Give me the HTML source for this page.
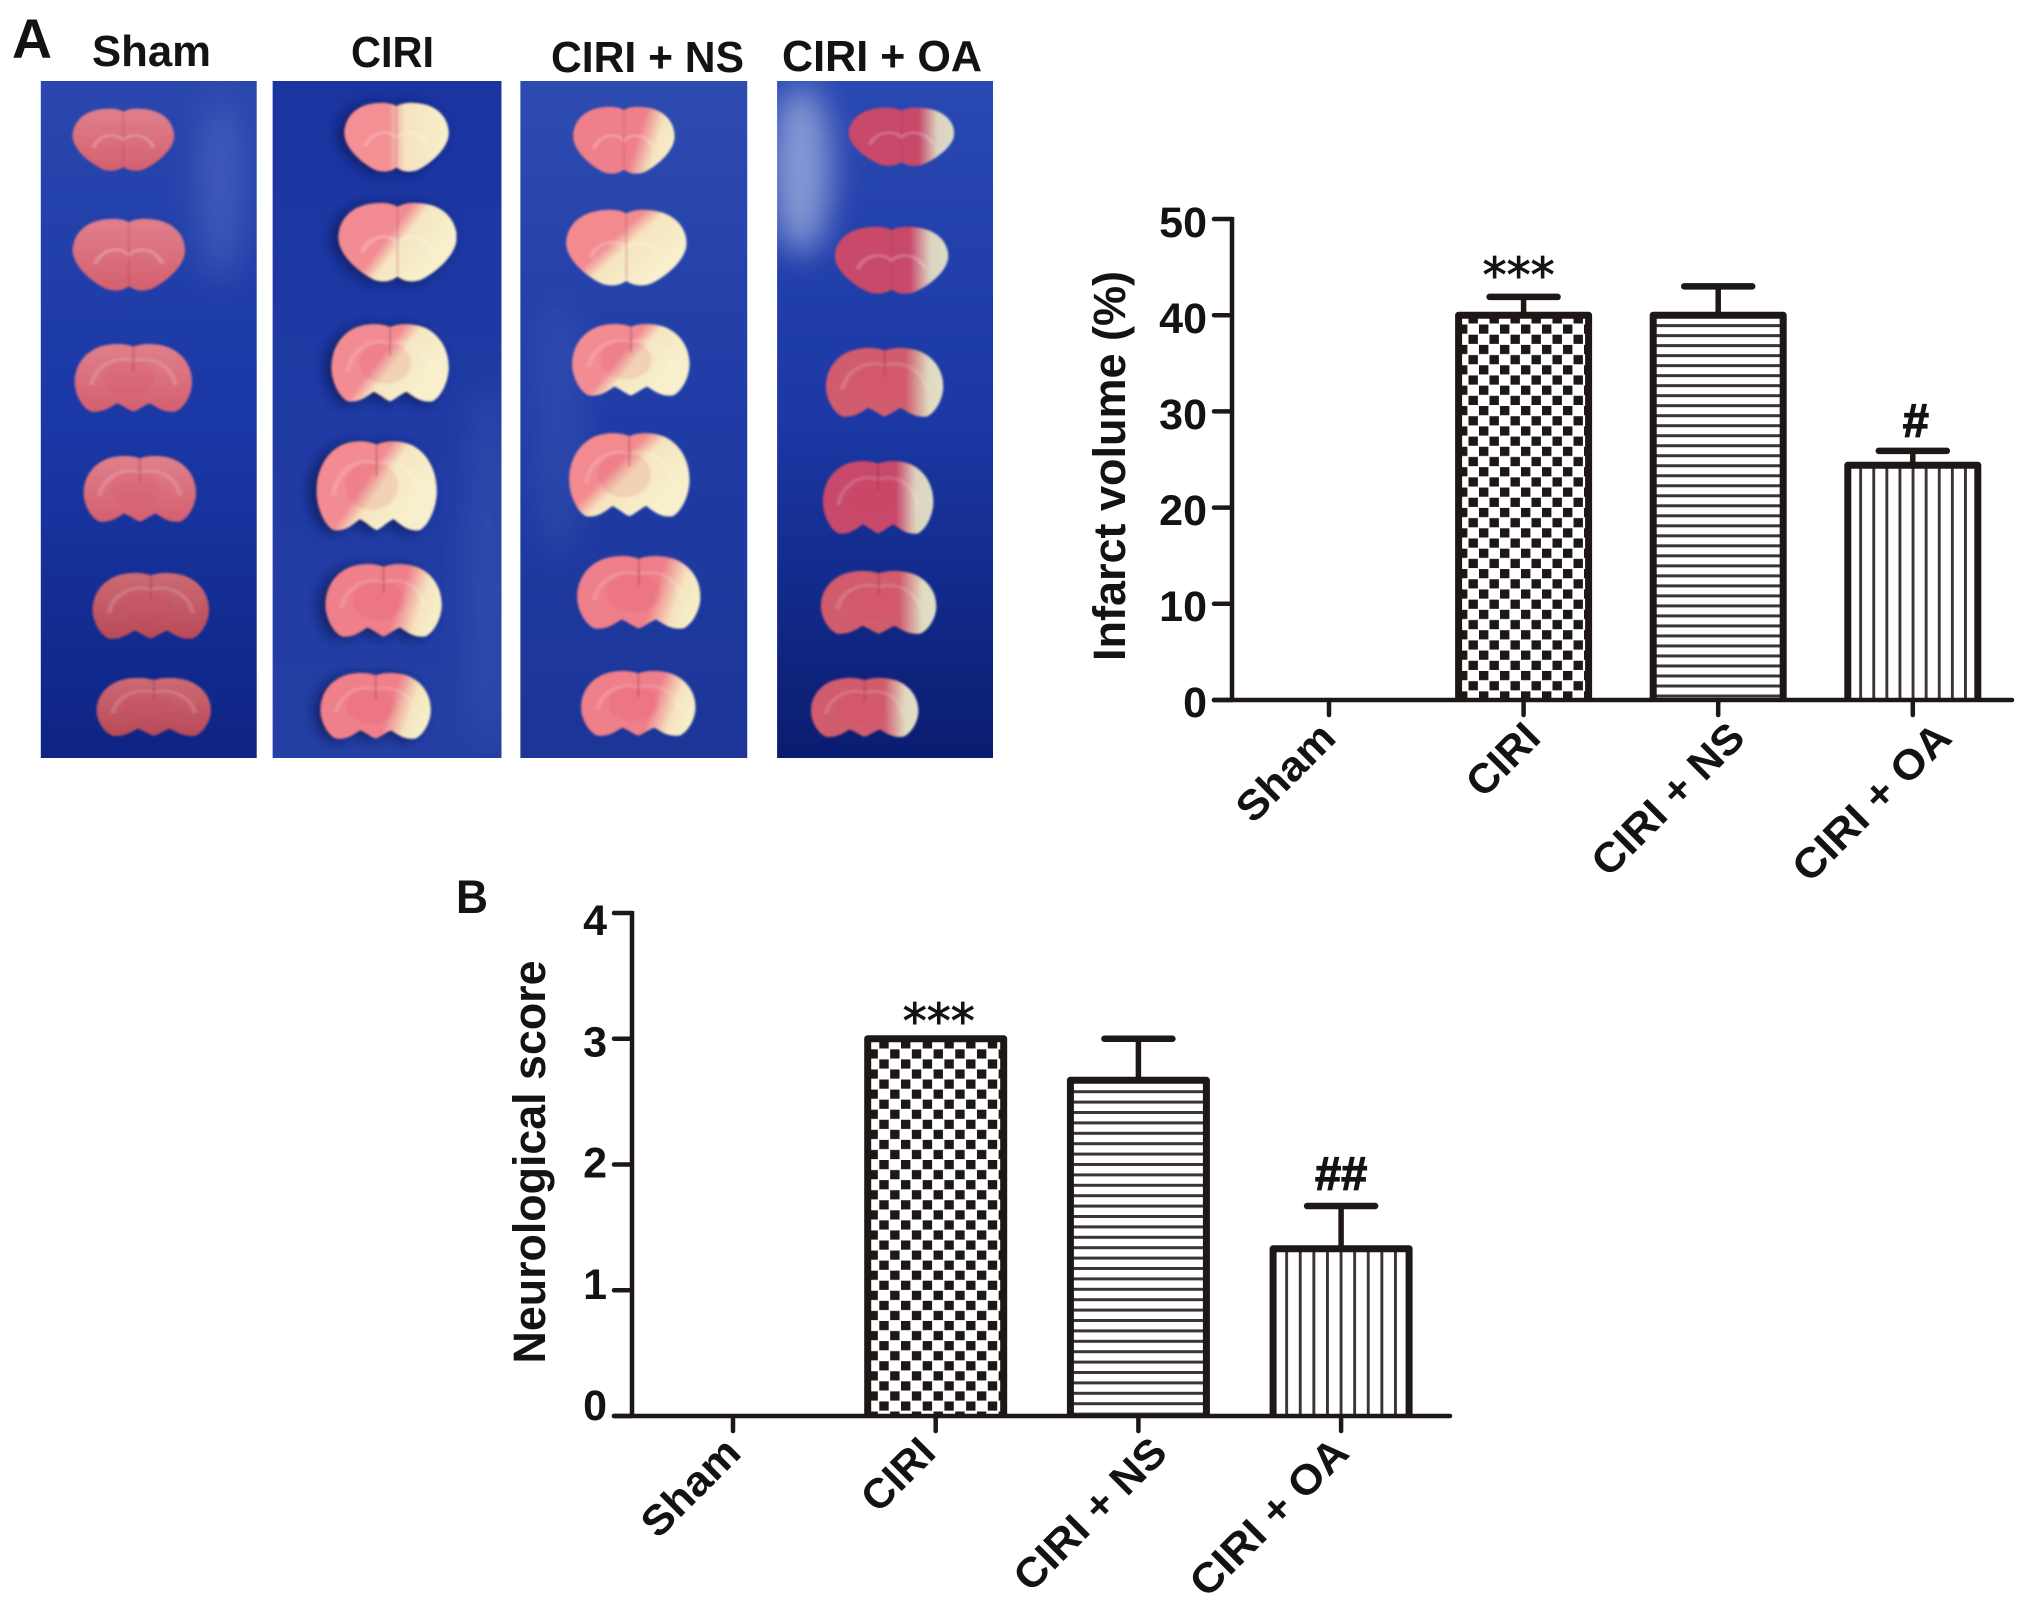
<!DOCTYPE html>
<html lang="en">
<head>
<meta charset="utf-8">
<title>Infarct volume and neurological score</title>
<style>
html,body{margin:0;padding:0;background:#fff;}
svg{display:block;}
text{font-family:"Liberation Sans",Arial,sans-serif;fill:#141212;}
.hdr{font-weight:700;font-size:44px;}
.tick{font-weight:700;font-size:43px;}
.xl{font-weight:700;font-size:42px;}
.ttl{font-weight:700;font-size:45px;}
</style>
</head>
<body>
<svg id="figure" xmlns="http://www.w3.org/2000/svg" width="2031" height="1609" viewBox="0 0 2031 1609">
<defs>
  <linearGradient id="blue1" x1="0" y1="0" x2="0" y2="1"><stop offset="0" stop-color="#2a47ae"/><stop offset=".5" stop-color="#1a38a6"/><stop offset="1" stop-color="#0e2484"/></linearGradient>
  <linearGradient id="blue2" x1="0" y1="0" x2="0" y2="1"><stop offset="0" stop-color="#1a34a0"/><stop offset=".5" stop-color="#1f3ba4"/><stop offset="1" stop-color="#2440a4"/></linearGradient>
  <linearGradient id="blue3" x1="0" y1="0" x2="0" y2="1"><stop offset="0" stop-color="#2d4bb0"/><stop offset=".5" stop-color="#1f3ca6"/><stop offset="1" stop-color="#1c3596"/></linearGradient>
  <linearGradient id="blue4" x1="0" y1="0" x2="0" y2="1"><stop offset="0" stop-color="#2a48b2"/><stop offset=".5" stop-color="#1b38a4"/><stop offset="1" stop-color="#0a1c70"/></linearGradient>
  <linearGradient id="gS1" x1="0" y1="0" x2="0" y2="1"><stop offset="0" stop-color="#e0808c"/><stop offset="1" stop-color="#d4606f"/></linearGradient>
  <linearGradient id="gS2" x1="0" y1="0" x2="0" y2="1"><stop offset="0" stop-color="#cd6b74"/><stop offset="1" stop-color="#b94a58"/></linearGradient>
  <linearGradient id="gC1" x1="0" y1="0" x2="1" y2="0"><stop offset=".42" stop-color="#f48f94"/><stop offset=".58" stop-color="#f7e3c0"/><stop offset="1" stop-color="#f8f0cc"/></linearGradient>
  <linearGradient id="gC2" x1=".1" y1=".1" x2=".9" y2=".5"><stop offset=".48" stop-color="#f28c92"/><stop offset=".64" stop-color="#f6e6c2"/><stop offset="1" stop-color="#f8f0cc"/></linearGradient>
  <linearGradient id="gC3" x1="0" y1=".2" x2="1" y2=".4"><stop offset=".66" stop-color="#ef7f8a"/><stop offset=".86" stop-color="#f5e4bf"/><stop offset="1" stop-color="#f7eec8"/></linearGradient>
  <linearGradient id="gN" x1=".1" y1=".05" x2=".9" y2=".6"><stop offset=".44" stop-color="#f38a90"/><stop offset=".6" stop-color="#f6e5c0"/><stop offset="1" stop-color="#f8f0cc"/></linearGradient>
  <linearGradient id="gO" x1="0" y1="0" x2="1" y2="0"><stop offset=".66" stop-color="#c8486a"/><stop offset=".84" stop-color="#dcd3c0"/><stop offset="1" stop-color="#dedcc6"/></linearGradient>
  <linearGradient id="gO2" x1="0" y1="0" x2="1" y2="0"><stop offset=".68" stop-color="#d15c6e"/><stop offset=".88" stop-color="#e0dcc0"/><stop offset="1" stop-color="#e2dfc8"/></linearGradient>
  <g id="brainF">
    <path d="M50 6C44 0 34 0 24 3C8 8 0 26 0 44C0 64 16 86 30 96C38 100 45 98 50 92C55 98 62 100 70 96C84 86 100 64 100 44C100 26 92 8 76 3C66 0 56 0 50 6Z"/>
    <path d="M20 62C28 38 44 40 50 50C56 40 72 38 80 62" fill="none" stroke="#fff" stroke-opacity=".22" stroke-width="4"/>
    <path d="M50 8V90" fill="none" stroke="#a83a4c" stroke-opacity=".28" stroke-width="1.6"/>
  </g>
  <g id="brainM">
    <path d="M50 5C42 0 30 0 20 6C6 16 0 36 0 56C0 72 6 92 14 98C24 100 30 92 36 86C42 90 46 96 50 98C54 96 58 90 64 86C70 92 76 100 86 98C94 92 100 72 100 56C100 36 94 16 80 6C70 0 58 0 50 5Z"/>
    <ellipse cx="46" cy="50" rx="22" ry="26" fill="#d8405e" fill-opacity=".13"/>
    <path d="M14 60C18 30 36 18 50 26C64 18 82 30 86 60" fill="none" stroke="#fff" stroke-opacity=".16" stroke-width="4"/>
    <path d="M50 6V40" fill="none" stroke="#8a2a3c" stroke-opacity=".35" stroke-width="1.6"/>
  </g>
  <filter id="soft" filterUnits="userSpaceOnUse" x="0" y="0" width="2031" height="1609"><feGaussianBlur stdDeviation="1"/></filter>
  <filter id="shadow" filterUnits="userSpaceOnUse" x="0" y="0" width="2031" height="1609"><feGaussianBlur stdDeviation="6"/></filter>
  <filter id="glareBlur" filterUnits="userSpaceOnUse" x="0" y="0" width="2031" height="1609"><feGaussianBlur stdDeviation="16"/></filter>
  <clipPath id="clipSham"><rect x="41" y="81" width="217" height="677"/></clipPath>
  <clipPath id="clipCiri"><rect x="274" y="81" width="230" height="677"/></clipPath>
  <clipPath id="clipNs"><rect x="523" y="81" width="228" height="677"/></clipPath>
  <clipPath id="clipOa"><rect x="781" y="81" width="217" height="677"/></clipPath>

  <pattern id="checkA" patternUnits="userSpaceOnUse" width="21" height="20.38" patternTransform="translate(1468.5 324.5)"><rect x="10.5" y="0" width="9.4" height="9.2" fill="#1d1716"/><rect x="0" y="10.19" width="9.4" height="9.2" fill="#1d1716"/></pattern>
  <pattern id="hlineA" patternUnits="userSpaceOnUse" width="10" height="10.01" patternTransform="translate(0 404.2)"><rect x="0" y="0" width="10" height="3" fill="#3a3534"/></pattern>
  <pattern id="vlineA" patternUnits="userSpaceOnUse" width="13.1" height="10" patternTransform="translate(1911.6 0)"><rect x="0" y="0" width="2.9" height="10" fill="#3a3534"/></pattern>
  <pattern id="checkB" patternUnits="userSpaceOnUse" width="21.7" height="20.12" patternTransform="translate(879.3 1059.4)"><rect x="0" y="0" width="9.4" height="9.2" fill="#1d1716"/><rect x="10.85" y="-10.06" width="9.4" height="9.2" fill="#1d1716"/><rect x="10.85" y="10.06" width="9.4" height="9.2" fill="#1d1716"/></pattern>
  <pattern id="hlineB" patternUnits="userSpaceOnUse" width="10" height="10.4" patternTransform="translate(0 1090.2)"><rect x="0" y="0" width="10" height="3" fill="#3a3534"/></pattern>
  <pattern id="vlineB" patternUnits="userSpaceOnUse" width="13.6" height="10" patternTransform="translate(1339.6 0)"><rect x="0" y="0" width="2.9" height="10" fill="#3a3534"/></pattern>
</defs>

<rect width="2031" height="1609" fill="#fff"/>

<text x="12" y="58" font-size="56" font-weight="700" textLength="40" lengthAdjust="spacingAndGlyphs">A</text>
<text x="456" y="913" font-size="47" font-weight="700" textLength="32" lengthAdjust="spacingAndGlyphs">B</text>

<text class="hdr" x="92" y="66" textLength="119" lengthAdjust="spacingAndGlyphs">Sham</text>
<text class="hdr" x="351" y="67" textLength="83" lengthAdjust="spacingAndGlyphs">CIRI</text>
<text class="hdr" x="551" y="72" textLength="193" lengthAdjust="spacingAndGlyphs">CIRI + NS</text>
<text class="hdr" x="782" y="71" textLength="200" lengthAdjust="spacingAndGlyphs">CIRI + OA</text>

<g transform="scale(.995 1)">
  <rect x="41" y="81" width="217" height="677" fill="url(#blue1)"/>
  <rect x="274" y="81" width="230" height="677" fill="url(#blue2)"/>
  <rect x="523" y="81" width="228" height="677" fill="url(#blue3)"/>
  <rect x="781" y="81" width="217" height="677" fill="url(#blue4)"/>

  <g clip-path="url(#clipSham)"><g filter="url(#glareBlur)"><ellipse cx="222" cy="190" rx="24" ry="90" fill="#7d93d8" opacity=".28"/></g></g>
  <g clip-path="url(#clipCiri)"><g filter="url(#glareBlur)"><ellipse cx="490" cy="560" rx="20" ry="180" fill="#6a80cc" opacity=".2"/></g></g>
  <g clip-path="url(#clipNs)"><g filter="url(#glareBlur)"><ellipse cx="560" cy="430" rx="28" ry="130" fill="#6a80cc" opacity=".16"/></g></g>
  <g clip-path="url(#clipOa)"><g filter="url(#glareBlur)"><ellipse cx="805" cy="170" rx="30" ry="85" fill="#d6def4" opacity=".55"/></g></g>

  <g filter="url(#shadow)" fill="#071450" opacity=".75">
    <use href="#brainF" transform="translate(340 104) scale(1.05 .71)"/>
    <use href="#brainF" transform="translate(334 204) scale(1.19 .81)"/>
    <use href="#brainM" transform="translate(327 325) scale(1.18 .8)"/>
    <use href="#brainM" transform="translate(311 442) scale(1.21 .92)"/>
    <use href="#brainM" transform="translate(320 565) scale(1.17 .75)"/>
    <use href="#brainM" transform="translate(316 674) scale(1.11 .68)"/>
  </g>

  <g filter="url(#soft)">
    <use href="#brainF" fill="url(#gS1)" transform="translate(73 108) scale(1.02 .64)"/>
    <use href="#brainF" fill="url(#gS1)" transform="translate(73 218) scale(1.13 .74)"/>
    <use href="#brainM" fill="url(#gS1)" transform="translate(75 343) scale(1.18 .7)"/>
    <use href="#brainM" fill="url(#gS1)" transform="translate(84 455) scale(1.13 .68)"/>
    <use href="#brainM" fill="url(#gS2)" transform="translate(93 572) scale(1.17 .68)"/>
    <use href="#brainM" fill="url(#gS2)" transform="translate(97 677) scale(1.15 .6)"/>

    <use href="#brainF" fill="url(#gC1)" transform="translate(346 102) scale(1.05 .71)"/>
    <use href="#brainF" fill="url(#gC2)" transform="translate(340 202) scale(1.19 .81)"/>
    <use href="#brainM" fill="url(#gC2)" transform="translate(333 323) scale(1.18 .8)"/>
    <use href="#brainM" fill="url(#gC2)" transform="translate(318 440) scale(1.21 .92)"/>
    <use href="#brainM" fill="url(#gC3)" transform="translate(327 563) scale(1.17 .75)"/>
    <use href="#brainM" fill="url(#gC3)" transform="translate(322 672) scale(1.11 .68)"/>

    <use href="#brainF" fill="url(#gC3)" transform="translate(576 106) scale(1.02 .69)"/>
    <use href="#brainF" fill="url(#gN)" transform="translate(569 209) scale(1.21 .78)"/>
    <use href="#brainM" fill="url(#gC2)" transform="translate(575 323) scale(1.18 .74)"/>
    <use href="#brainM" fill="url(#gN)" transform="translate(572 432) scale(1.21 .86)"/>
    <use href="#brainM" fill="url(#gC3)" transform="translate(580 555) scale(1.24 .75)"/>
    <use href="#brainM" fill="url(#gC3)" transform="translate(584 670) scale(1.15 .67)"/>

    <use href="#brainF" fill="url(#gO)" transform="translate(853 107) scale(1.06 .6)"/>
    <use href="#brainF" fill="url(#gO)" transform="translate(839 226) scale(1.14 .69)"/>
    <use href="#brainM" fill="url(#gO2)" transform="translate(830 347) scale(1.18 .71)"/>
    <use href="#brainM" fill="url(#gO)" transform="translate(827 460) scale(1.11 .75)"/>
    <use href="#brainM" fill="url(#gO2)" transform="translate(825 570) scale(1.16 .65)"/>
    <use href="#brainM" fill="url(#gO2)" transform="translate(815 677) scale(1.08 .61)"/>
  </g>
</g>

<g id="chart-a"></g>
<g id="chart-b"></g>
</svg>

<script>
const categories = ['Sham', 'CIRI', 'CIRI + NS', 'CIRI + OA'];

const infarctMeans = [0, 40, 40, 24.4];
const infarctErrors = [0, 1.9, 3.0, 1.5];
const infarctMarks = ['', '***', '', '#'];
const infarctTicks = [0, 10, 20, 30, 40, 50];

const scoreMeans = [0, 3, 2.67, 1.33];
const scoreErrors = [0, 0, 0.33, 0.34];
const scoreMarks = ['', '***', '', '##'];
const scoreTicks = [0, 1, 2, 3, 4];

const INK = '#1d1716';
const SVGNS = 'http://www.w3.org/2000/svg';

function make(parent, tag, attrs, text) {
  const el = document.createElementNS(SVGNS, tag);
  for (const k in attrs) el.setAttribute(k, attrs[k]);
  if (text !== undefined) el.textContent = text;
  parent.appendChild(el);
  return el;
}
function slug(s) {
  return s.toLowerCase().replace(/[^a-z0-9]+/g, '-');
}

function drawChart(cfg) {
  const root = document.getElementById(cfg.id);
  const yMax = cfg.ticks[cfg.ticks.length - 1];
  const y = v => cfg.y0 - (v / yMax) * (cfg.y0 - cfg.yTop);
  const x = i => cfg.x0 + i * cfg.xStep;
  const labelY = v => cfg.labelZero - (v / yMax) * (cfg.labelZero - cfg.labelTop);

  cfg.means.forEach((v, i) => {
    const c = x(i);
    const cat = slug(categories[i]);
    const top = y(v);
    if (cfg.errors[i] > 0) {
      const errY = y(v + cfg.errors[i]);
      const stem = make(root, 'line', {x1: c, x2: c, y1: top, y2: errY, stroke: INK, 'stroke-width': 5.5});
      
      
      const cap = make(root, 'line', {x1: c - 34, x2: c + 34, y1: errY, y2: errY, stroke: INK, 'stroke-width': 6.5, 'stroke-linecap': 'round'});
      
      
    }
    if (v > 0) {
      const fill = make(root, 'rect', {x: c - cfg.barHalf, y: top, width: cfg.barHalf * 2, height: cfg.y0 - top, fill: 'url(#' + cfg.patterns[i] + ')'});
      
      
      const d = 'M' + (c - cfg.barHalf) + ' ' + cfg.y0 + 'V' + top + 'H' + (c + cfg.barHalf) + 'V' + cfg.y0;
      const edge = make(root, 'path', {d: d, fill: 'none', stroke: INK, 'stroke-width': 7, 'stroke-linejoin': 'round'});
      
      
    }
    const mark = cfg.marks[i];
    if (mark) {
      const base = y(v + cfg.errors[i]);
      const star = mark.charAt(0) === '*';
      const m = make(root, 'text', {
        x: c + (star ? cfg.starDx : cfg.hashDx),
        y: base + (star ? cfg.starDy : cfg.hashDy),
        'text-anchor': 'middle',
        'font-size': star ? 48 : 47,
        'font-weight': star ? 400 : 700,
        stroke: '#141212',
        'stroke-width': star ? 0.9 : 1.2
      }, mark);
      m.style.fontFamily = star ? '"DejaVu Sans",sans-serif' : '"Liberation Sans",sans-serif';
      
      
    }
  });

  const yAxis = make(root, 'line', {x1: cfg.axisX, x2: cfg.axisX, y1: cfg.yTop - 2, y2: cfg.y0, stroke: INK, 'stroke-width': 4.5});
  
  
  const xAxis = make(root, 'line', {x1: cfg.axisX - 18, x2: cfg.axisEnd, y1: cfg.y0, y2: cfg.y0, stroke: INK, 'stroke-width': 4.5, 'stroke-linecap': 'round'});
  
  

  cfg.ticks.forEach(t => {
    const tk = make(root, 'line', {x1: cfg.axisX - 18, x2: cfg.axisX, y1: y(t), y2: y(t), stroke: INK, 'stroke-width': 4.5, 'stroke-linecap': 'round'});
    
    
    const lb = make(root, 'text', {class: 'tick', x: cfg.axisX - 25, y: labelY(t), 'text-anchor': 'end'}, String(t));
    
    
  });

  categories.forEach((name, i) => {
    const c = x(i);
    const tk = make(root, 'line', {x1: c, x2: c, y1: cfg.y0, y2: cfg.y0 + 15, stroke: INK, 'stroke-width': 4.5, 'stroke-linecap': 'round'});
    
    
    const lx = c + cfg.labelNudge[i];
    const ly = cfg.xLabelY;
    const lb = make(root, 'text', {
      class: 'xl', x: lx, y: ly, 'text-anchor': 'end',
      transform: 'rotate(-45 ' + lx + ' ' + ly + ')',
      textLength: cfg.labelLengths[i], lengthAdjust: 'spacingAndGlyphs'
    }, name);
    
    
  });

  const title = make(root, 'text', {
    class: 'ttl', x: cfg.titleX, y: cfg.titleY, 'text-anchor': 'middle',
    transform: 'rotate(-90 ' + cfg.titleX + ' ' + cfg.titleY + ')',
    textLength: cfg.titleLen, lengthAdjust: 'spacingAndGlyphs'
  }, cfg.title);
  
  
}

drawChart({
  id: 'chart-a', means: infarctMeans, errors: infarctErrors, marks: infarctMarks, ticks: infarctTicks,
  patterns: ['checkA', 'checkA', 'hlineA', 'vlineA'],
  y0: 700, yTop: 219, x0: 1329, xStep: 194.6, barHalf: 65, axisX: 1232, axisEnd: 2012,
  labelZero: 717, labelTop: 237, starDx: -5, starDy: -5, hashDx: 3, hashDy: -14,
  labelNudge: [9, 19, 29, 41], xLabelY: 740, labelLengths: [120, 84, 196, 204],
  title: 'Infarct volume (%)', titleX: 1125, titleY: 466, titleLen: 390
});

drawChart({
  id: 'chart-b', means: scoreMeans, errors: scoreErrors, marks: scoreMarks, ticks: scoreTicks,
  patterns: ['checkB', 'checkB', 'hlineB', 'vlineB'],
  y0: 1416, yTop: 913, x0: 733, xStep: 202.7, barHalf: 68, axisX: 632, axisEnd: 1450,
  labelZero: 1420, labelTop: 935, starDx: 3, starDy: -1, hashDx: 0, hashDy: -16,
  labelNudge: [10, 2, 31, 10], xLabelY: 1455, labelLengths: [120, 84, 196, 204],
  title: 'Neurological score', titleX: 545, titleY: 1162, titleLen: 403
});
</script>
</body>
</html>
